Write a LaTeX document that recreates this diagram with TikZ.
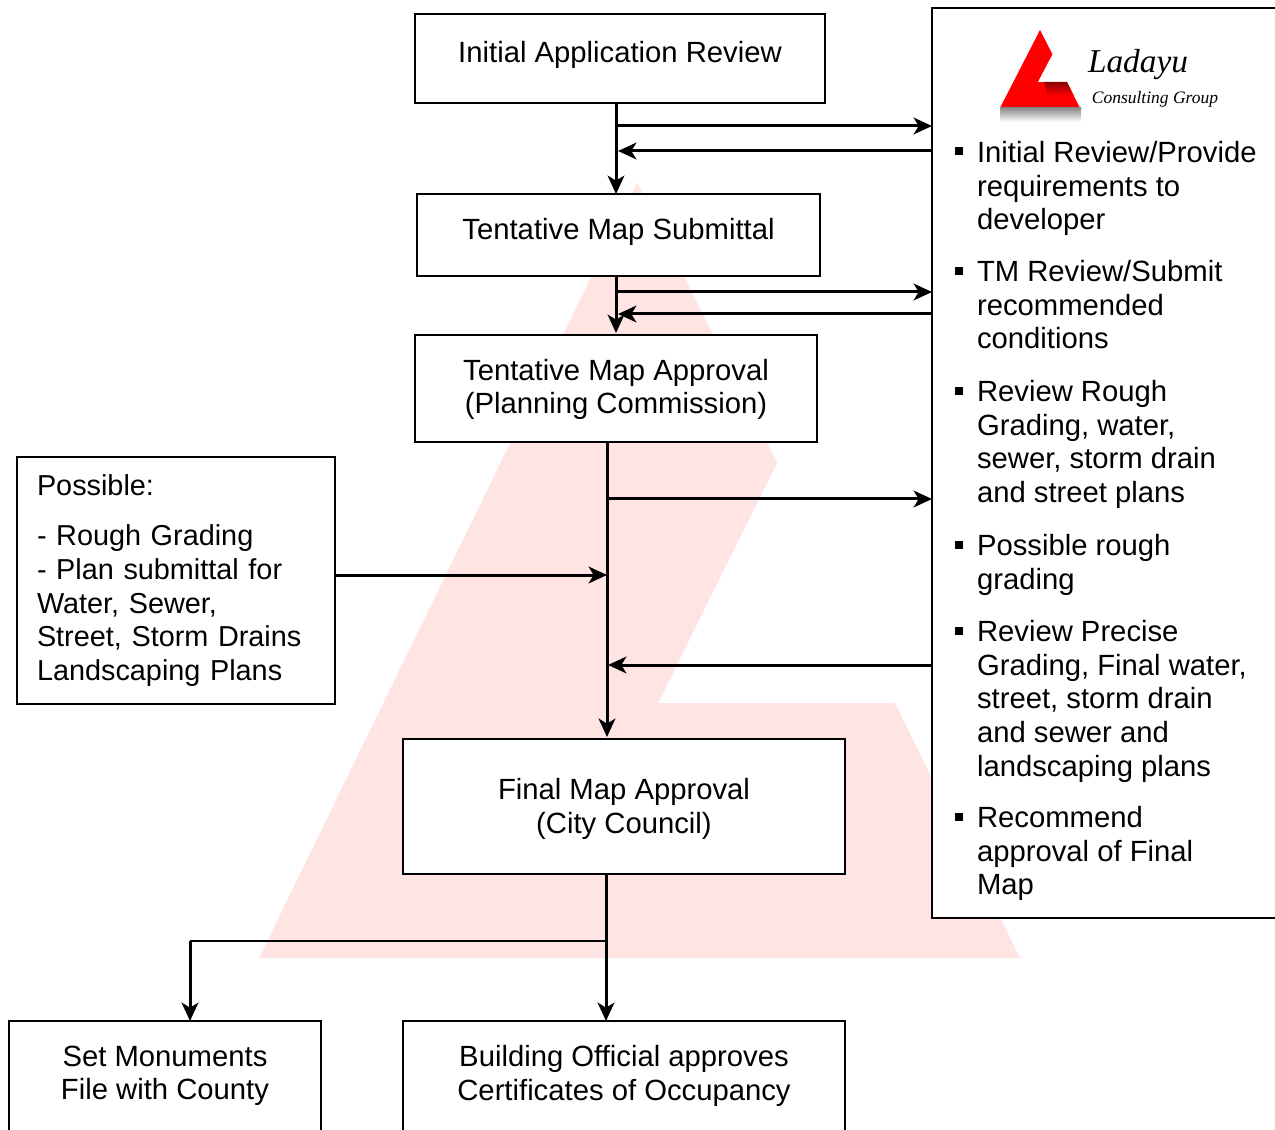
\documentclass[tikz,border=0pt]{standalone}
\usepackage{fontspec}
\setmainfont{Liberation Sans}
\newfontfamily\logofont{Liberation Serif}
\usetikzlibrary{arrows.meta}
\definecolor{markpink}{RGB}{254,228,227}
\definecolor{logored}{RGB}{255,0,0}
\tikzset{
  flowbox/.style={draw, fill=white, line width=0.65pt, inner sep=0pt, outer sep=0pt, align=center, font=\fontsize{17.55}{20}\selectfont},
  itemtext/.style={anchor=north west, inner sep=0pt, outer sep=0pt, align=left},
  itemmark/.style={fill=black, inner sep=0pt, outer sep=0pt, minimum size=4.8pt},
  flow/.style={line width=1.8pt, -{Stealth[length=11pt, width=10pt, inset=3pt]}},
  flowline/.style={line width=1pt}
}
\begin{document}
\begin{tikzpicture}[x=0.6pt, y=-0.6pt, font=\fontsize{17.55}{20.3}\selectfont]
  \useasboundingbox (0,0) rectangle (1275,1130);
  \clip (0,0) rectangle (1275,1130);
  \fill[white] (0,0) rectangle (1275,1130);

  % Watermark
  \fill[markpink] (637,183) -- (777,463) -- (658,703) -- (895,703) -- (1020,958) -- (259,958) -- cycle;

  % Flow boxes
  \node[flowbox, minimum width=246pt, minimum height=53.4pt, text depth=7.4pt] (review) at (620,58.5) {Initial Application Review};
  \node[flowbox, minimum width=241.8pt, minimum height=49.2pt, text depth=7.6pt] (submittal) at (618.5,235) {Tentative Map Submittal};
  \node[flowbox, minimum width=241.2pt, minimum height=64.2pt, text depth=2.6pt] (approval) at (616,388.5) {Tentative Map Approval\\(Planning Commission)};
  \node[flowbox, minimum width=190.8pt, minimum height=148.2pt, align=left, text width=166.8pt, font=\fontsize{17.3}{20.2}\selectfont] (possible) at (176,580.5) {Possible:\\[10pt]- Rough Grading\\- Plan submittal for\\Water, Sewer,\\Street, Storm Drains\\Landscaping Plans};
  \node[flowbox, minimum width=265.2pt, minimum height=81pt, text depth=0.8pt] (final) at (624,806.5) {Final Map Approval\\(City Council)};
  \node[flowbox, minimum width=187.2pt, minimum height=90pt, text depth=27.6pt] (monuments) at (165,1096) {Set Monuments\\File with County};
  \node[flowbox, minimum width=265.2pt, minimum height=90pt, text depth=27.6pt] (building) at (624,1096) {Building Official approves\\Certificates of Occupancy};

  % Review panel
  \node[flowbox, minimum width=222pt, minimum height=546pt] (panel) at (1117,463) {};

  % Logo
  \fill[logored] (1040,30) -- (1080,108) -- (1000,108) -- cycle;
  \shade[top color=black!45, bottom color=white] (1000,108) rectangle (1081,122);
  \fill[white] (1059,42) -- (1080,82) -- (1038,82) -- cycle;
  \shade[top color=logored!55!black, bottom color=logored] (1044,82) -- (1067,82) -- (1074,96) -- (1048,96) -- cycle;
  \node[font=\logofont\itshape\fontsize{20}{22}\selectfont, inner sep=0pt] (logoname) at (1138,65) {Ladayu};
  \node[font=\logofont\itshape\fontsize{10.5}{12}\selectfont, inner sep=0pt] (logogroup) at (1155,99) {Consulting Group};

  % Panel items
  \foreach \y/\name in {151/marka, 271/markb, 391/markc, 545/markd, 631/marke, 817/markf} {
    \node[itemmark] (\name) at (959,\y) {};
  }
  \node[itemtext] (itema) at (977,141) {Initial Review/Provide\\requirements to\\developer};
  \node[itemtext] (itemb) at (977,260) {TM Review/Submit\\recommended\\conditions};
  \node[itemtext] (itemc) at (977,380) {Review Rough\\Grading, water,\\sewer, storm drain\\and street plans};
  \node[itemtext] (itemd) at (977,534) {Possible rough\\grading};
  \node[itemtext] (iteme) at (977,620) {Review Precise\\Grading, Final water,\\street, storm drain\\and sewer and\\landscaping plans};
  \node[itemtext] (itemf) at (977,806) {Recommend\\approval of Final\\Map};

  % Trunks
  \coordinate (trunka) at (616,126);
  \coordinate (trunkb) at (616,292);
  \coordinate (trunkc) at (607,499);
  \coordinate (trunkd) at (606,941);
  \coordinate (backa) at (618,151);
  \coordinate (backb) at (618,314);
  \coordinate (backc) at (608,665);
  \coordinate (sidein) at (607,575);
  \coordinate (branch) at (190,941);

  \draw[flow] (trunka |- review.south) -- (trunka |- submittal.north);
  \draw[flow] (trunkb |- submittal.south) -- ([yshift=1.2pt]trunkb |- approval.north);
  \draw[flow] (trunkc |- approval.south) -- ([yshift=1.2pt]trunkc |- final.north);
  \draw[flow] (trunkd |- final.south) -- (trunkd |- building.north);

  % Links to the panel
  \draw[flow] (trunka) -- (trunka -| panel.west);
  \draw[flow] (backa -| panel.west) -- (backa);
  \draw[flow] (trunkb) -- (trunkb -| panel.west);
  \draw[flow] (backb -| panel.west) -- (backb);
  \draw[flow] (trunkc) -- (trunkc -| panel.west);
  \draw[flow] (backc -| panel.west) -- (backc);
  \draw[flow] (possible.east |- sidein) -- (sidein);

  % Branch
  \draw[flowline] (trunkd) -- (branch);
  \draw[flow] (branch) -- (branch |- monuments.north);
\end{tikzpicture}
\end{document}
